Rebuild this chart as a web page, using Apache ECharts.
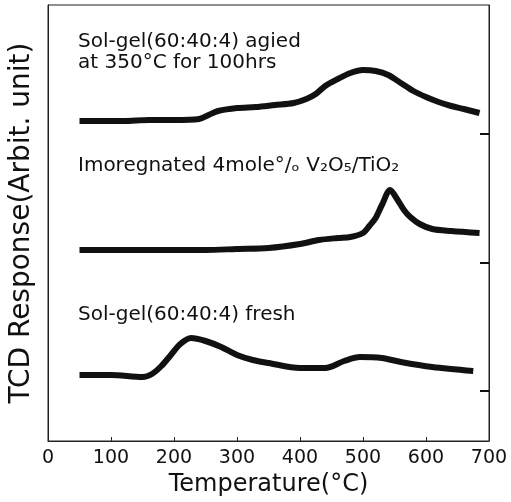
<!DOCTYPE html>
<html><head><meta charset="utf-8">
<script src="https://cdn.jsdelivr.net/npm/echarts@6/dist/echarts.min.js"></script>
<style>html,body{margin:0;padding:0;background:#fff}#c{width:511px;height:502px}</style>
</head><body><div id="c"></div>
<script>
// Temperature (°C) samples and TCD response (arbitrary units, curves stacked with offsets)
const agedT = [50,80,120,160,200,240,255,270,300,330,360,390,410,425,440,460,480,500,520,540,560,580,600,620,640,660,685];
const agedY = [320,320,320,321,321,322,326,330,333,334,336,338,342,347,355,362,368,371,370,366,358,350,344,339,335,332,328];
const impT = [50,100,150,200,250,300,350,400,430,460,480,500,510,520,530,543,555,565,575,590,610,640,685];
const impY = [191,191,191,191,191,192,193,197,201,203,204,208,215,223,236,251,241,231,224,217,212,210,208];
const freshT = [50,100,150,165,180,195,210,227,250,275,300,325,350,400,440,470,495,530,560,610,675];
const freshY = [66,66,64,67,75,86,97,103,100,94,86,81,78,73,73,80,84,83,79,74,70];
const baselineTicks = [50,178,307];
const labels = {
  aged1: 'Sol-gel(60:40:4) agied',
  aged2: 'at 350°C for 100hrs',
  imp: 'Imoregnated 4mole°/ₒ V₂O₅/TiO₂',
  fresh: 'Sol-gel(60:40:4) fresh'
};
const zip = (a,b)=>a.map((v,i)=>[v,b[i]]);
const FONT = 'DejaVu Sans';
const chart = echarts.init(document.getElementById('c'));
const lineStyle = {color:'#111', width:6};
const txt = (x,y,t)=>({type:'text', left:x, top:y, style:{text:t, font:'20px "DejaVu Sans"', fill:'#111'}});
chart.setOption({
  animation:false,
  grid:{left:47, right:22, top:5, bottom:61, show:true, borderColor:'#222', borderWidth:1, backgroundColor:'transparent'},
  xAxis:[{
    type:'value', min:0, max:700, interval:100,
    name:'Temperature(°C)', nameLocation:'middle', nameGap:25,
    nameTextStyle:{fontFamily:FONT, fontSize:24, color:'#111'},
    axisLine:{show:true, lineStyle:{color:'#222', width:1}},
    axisTick:{inside:true, length:4, lineStyle:{color:'#222'}},
    axisLabel:{fontFamily:FONT, fontSize:19, color:'#111', margin:8},
    splitLine:{show:false}
  }],
  yAxis:[{
    type:'value', min:0, max:436, position:'left',
    name:'TCD Response(Arbit. unit)', nameLocation:'middle', nameGap:12,
    nameTextStyle:{fontFamily:FONT, fontSize:28, color:'#111'},
    axisLine:{show:true, lineStyle:{color:'#222', width:1}},
    axisTick:{show:false}, axisLabel:{show:false}, splitLine:{show:false}
  },{
    type:'value', min:0, max:436, position:'right', gridIndex:0, offset:0,
    axisLine:{show:true, lineStyle:{color:'#222', width:1}},
    axisTick:{show:true, inside:true, length:9, customValues:baselineTicks, lineStyle:{color:'#111', width:2}},
    axisLabel:{show:false}, splitLine:{show:false}
  }],
  series:[
    {type:'line', yAxisIndex:1, data:zip(agedT,agedY), showSymbol:false, lineStyle, smooth:0.3},
    {type:'line', data:zip(impT,impY), showSymbol:false, lineStyle, smooth:0.3},
    {type:'line', data:zip(freshT,freshY), showSymbol:false, lineStyle, smooth:0.3}
  ],
  graphic:[
    txt(78,32,labels.aged1),
    txt(78,53,labels.aged2),
    txt(78,156,labels.imp),
    txt(78,305,labels.fresh)
  ]
});
</script></body></html>
